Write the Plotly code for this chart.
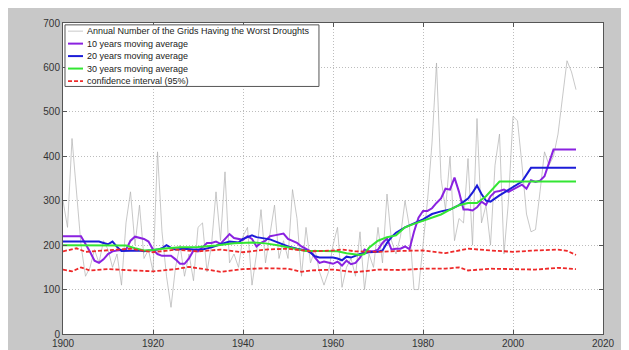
import plotly.graph_objects as go

years = list(range(1900, 2015))
annual = [300, 240, 440, 310, 200, 130, 150, 190, 160, 210,
          190, 150, 180, 110, 250, 320, 200, 290, 170, 190,
          140, 410, 230, 130, 60, 150, 200, 130, 180, 120,
          240, 250, 140, 200, 320, 210, 365, 160, 180, 150,
          220, 240, 110, 180, 280, 160, 220, 290, 170, 210,
          170, 325, 260, 130, 240, 160, 190, 140, 110, 140,
          200, 240, 105, 150, 170, 130, 230, 100, 180, 150,
          240, 160, 315, 210, 180, 220, 300, 240, 100, 100,
          200, 300, 430, 610, 350, 280, 400, 210, 260, 250,
          395, 200, 485, 250, 290, 200, 380, 450, 180, 300,
          490, 480, 380, 270, 230, 235, 320, 410, 380, 400,
          450, 530, 615, 590, 550]

ma10_years = [1900, 1904, 1906, 1907, 1908, 1909, 1910, 1911, 1912, 1914, 1915, 1916, 1918, 1919,
              1920, 1921, 1922, 1924, 1925, 1926, 1927, 1928, 1929, 1930, 1931, 1932, 1933, 1934,
              1935, 1936, 1937, 1938, 1939, 1940, 1941, 1942, 1943, 1944, 1945, 1946, 1947, 1948,
              1949, 1950, 1951, 1952, 1953, 1954, 1955, 1956, 1957, 1958, 1959, 1960, 1961, 1962,
              1963, 1964, 1965, 1966, 1967, 1968, 1969, 1970, 1971, 1972, 1973, 1974, 1975, 1976,
              1977, 1978, 1979, 1980, 1981, 1982, 1983, 1984, 1985, 1986, 1987, 1988, 1989, 1990,
              1991, 1992, 1993, 1994, 1995, 1996, 1997, 1998, 1999, 2000, 2001, 2002, 2003, 2004,
              2005, 2006, 2007, 2008, 2009, 2014]
ma10 = [220, 220, 185, 165, 160, 168, 180, 186, 188, 190, 210, 219, 214, 208,
        190, 180, 176, 176, 168, 158, 158, 170, 188, 186, 195, 205, 205, 208,
        203, 215, 225, 216, 214, 212, 220, 214, 197, 205, 210, 220, 222, 224,
        226, 214, 210, 205, 197, 192, 186, 172, 160, 163, 160, 158, 163, 154,
        165, 157, 160, 172, 190, 186, 186, 190, 205, 215, 190, 192, 192, 197,
        191, 230, 262, 277, 277, 283, 295, 305, 327, 325, 352, 320, 280, 280,
        278, 285, 298, 291, 310, 320, 322, 325, 320, 325, 330, 336, 327, 346,
        342, 345, 355, 385, 415, 415]

ma20_years = [1900, 1908, 1909, 1910, 1911, 1912, 1913, 1915, 1917, 1918, 1920, 1921, 1922, 1923,
              1924, 1925, 1927, 1929, 1931, 1933, 1935, 1937, 1939, 1940, 1941, 1942, 1943, 1944,
              1946, 1948, 1950, 1952, 1954, 1955, 1956, 1957, 1960, 1961, 1962, 1963, 1964, 1966,
              1968, 1970, 1971, 1972, 1973, 1974, 1976, 1978, 1980, 1982, 1984, 1986, 1988, 1990,
              1991, 1992, 1993, 1994, 1995, 1997, 1999, 2000, 2002, 2004, 2014]
ma20 = [208, 208, 205, 202, 208, 196, 187, 187, 188, 186, 188, 190, 193, 200,
        194, 190, 192, 190, 190, 195, 202, 208, 206, 214, 218, 222, 218, 216,
        213, 205, 197, 192, 188, 183, 175, 172, 172, 170, 166, 174, 172, 180,
        184, 185, 188, 205, 218, 228, 240, 249, 258, 270, 276, 280, 290, 305,
        318, 334, 315, 300, 298, 312, 325, 330, 343, 374, 374]

ma30_years = [1900, 1914, 1916, 1918, 1920, 1922, 1926, 1930, 1934, 1938, 1942, 1945, 1948, 1951,
              1954, 1958, 1961, 1963, 1966, 1967, 1968, 1970, 1972, 1974, 1976, 1978, 1980, 1982,
              1984, 1986, 1988, 1990, 1992, 1994, 1997, 2014]
ma30 = [200, 199, 193, 188, 189, 192, 195, 196, 199, 204, 206, 204, 199, 193,
        187, 187, 186, 182, 178, 180, 194, 210, 218, 222, 240, 248, 255, 262,
        269, 280, 290, 295, 295, 310, 343, 343]

ci_upper_years = [1900, 1903, 1905, 1910, 1915, 1920, 1925, 1930, 1935, 1940, 1945, 1950, 1955,
                  1960, 1962, 1965, 1970, 1975, 1980, 1985, 1990, 1995, 2000, 2005, 2010, 2012, 2014]
ci_upper = [186, 193, 185, 188, 192, 184, 190, 186, 190, 184, 190, 192, 186,
            188, 190, 186, 185, 187, 188, 182, 192, 188, 185, 188, 190, 187, 178]

ci_lower_years = [1900, 1902, 1904, 1906, 1910, 1915, 1920, 1925, 1928, 1932, 1935, 1940, 1945,
                  1950, 1953, 1955, 1960, 1965, 1970, 1975, 1980, 1985, 1988, 1990, 1995, 2000,
                  2005, 2010, 2014]
ci_lower = [145, 141, 150, 143, 146, 143, 141, 146, 151, 145, 140, 146, 148,
            147, 140, 143, 145, 139, 145, 144, 147, 147, 150, 143, 147, 146,
            145, 149, 146]

x_ticks = [1900, 1920, 1940, 1960, 1980, 2000, 2020]
y_ticks = [0, 100, 200, 300, 400, 500, 600, 700]

legend_labels = ["Annual Number of the Grids Having the Worst Droughts",
                 "10 years moving average",
                 "20 years moving average",
                 "30 years moving average",
                 "confidence interval (95%)"]

FONT = "Arial, Liberation Sans, sans-serif"
C_RAW = "#b0b0b0"
C_10 = "#8a22e0"
C_20 = "#1c1cd8"
C_30 = "#33e633"
C_CI = "#ee2a2a"
CI_DASH = "4px,2px"

styles = [dict(color=C_RAW, width=0.7),
          dict(color=C_10, width=2),
          dict(color=C_20, width=2),
          dict(color=C_30, width=2),
          dict(color=C_CI, width=1.8, dash=CI_DASH)]

fig = go.Figure()
fig.add_trace(go.Scatter(x=years, y=annual, mode="lines", line=styles[0],
                         name=legend_labels[0], showlegend=False))
fig.add_trace(go.Scatter(x=ma10_years, y=ma10, mode="lines", line=styles[1],
                         name=legend_labels[1], showlegend=False))
fig.add_trace(go.Scatter(x=ma20_years, y=ma20, mode="lines", line=styles[2],
                         name=legend_labels[2], showlegend=False))
fig.add_trace(go.Scatter(x=ma30_years, y=ma30, mode="lines", line=styles[3],
                         name=legend_labels[3], showlegend=False))
fig.add_trace(go.Scatter(x=ci_upper_years, y=ci_upper, mode="lines", line=styles[4],
                         name=legend_labels[4], showlegend=False))
fig.add_trace(go.Scatter(x=ci_lower_years, y=ci_lower, mode="lines", line=styles[4],
                         name=legend_labels[4], showlegend=False))

# Legend box drawn in plot-area (paper) coordinates, MATLAB style
box_x0, box_x1, box_y0, box_y1 = 0.0037, 0.474, 0.796, 0.994
row_top, row_step = 0.9738, 0.0401
shapes = [dict(type="rect", xref="paper", yref="paper", x0=box_x0, x1=box_x1,
               y0=box_y0, y1=box_y1, fillcolor="white",
               line=dict(color="#555555", width=1), layer="above")]
annotations = []
for i, (label, st) in enumerate(zip(legend_labels, styles)):
    yy = row_top - i * row_step
    shapes.append(dict(type="line", xref="paper", yref="paper", x0=0.0093, x1=0.037,
                       y0=yy, y1=yy, line=st, layer="above"))
    annotations.append(dict(xref="paper", yref="paper", x=0.0407, y=yy, text=label,
                            showarrow=False, xanchor="left", yanchor="middle",
                            font=dict(family=FONT, size=9, color="#222222")))

axis_common = dict(showgrid=True, gridcolor="#bdbdbd", griddash="1px,2px", gridwidth=1,
                   showline=True, linecolor="#555555", linewidth=1, mirror="ticks",
                   ticks="inside", ticklen=4, tickcolor="#555555",
                   tickfont=dict(family=FONT, size=10, color="#333333"), zeroline=False)

fig.update_layout(
    width=629, height=350,
    margin=dict(l=55, r=34, t=9, b=17),
    paper_bgcolor="#c8c8c8", plot_bgcolor="white",
    font=dict(family=FONT, size=10, color="#222222"),
    xaxis=dict(range=[1900, 2020], tickvals=x_ticks, ticktext=[str(v) for v in x_ticks], **axis_common),
    yaxis=dict(range=[0, 700], tickvals=y_ticks, ticktext=[str(v) for v in y_ticks], **axis_common),
    shapes=shapes, annotations=annotations,
    showlegend=False,
)

fig.write_html("out.html")
